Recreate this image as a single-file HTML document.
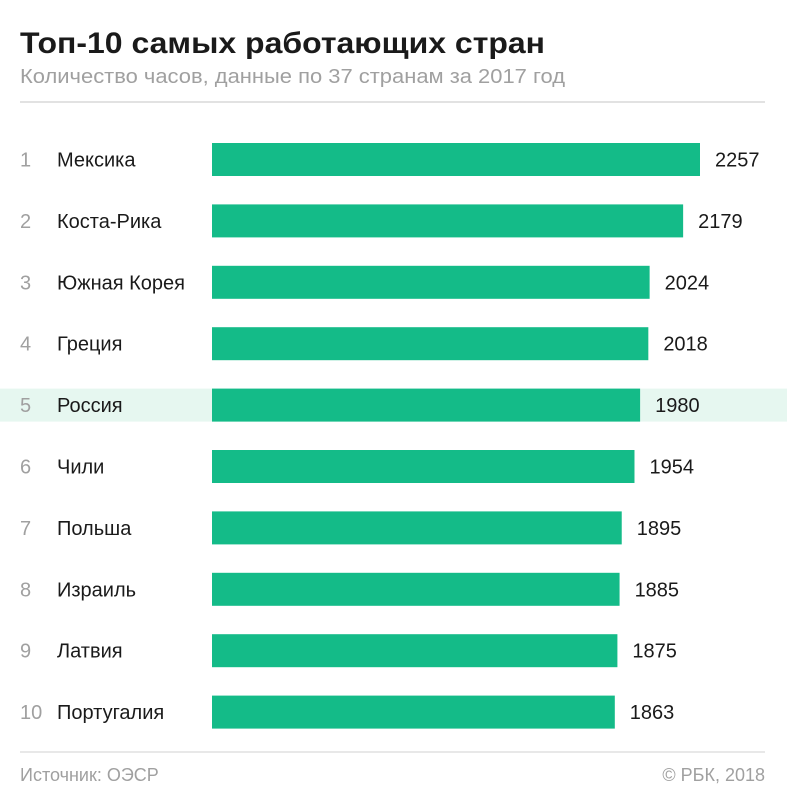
<!DOCTYPE html>
<html><head><meta charset="utf-8"><style>
body{margin:0;background:#fff;width:787px;height:800px;overflow:hidden;font-family:"Liberation Sans",sans-serif}
svg text{font-family:"Liberation Sans",sans-serif}
</style></head><body>
<svg width="787" height="800">
<text x="20" y="53" font-size="30" font-weight="bold" fill="#1a1a1a" textLength="525" lengthAdjust="spacingAndGlyphs">Топ-10 самых работающих стран</text>
<text x="20" y="83" font-size="20" fill="#a0a0a0" textLength="545" lengthAdjust="spacingAndGlyphs">Количество часов, данные по 37 странам за 2017 год</text>
<line x1="20" y1="102" x2="765" y2="102" stroke="#d8d8d8" stroke-width="1.5"/>
<g id="rows"></g>
<line x1="20" y1="752" x2="765" y2="752" stroke="#e0e0e0" stroke-width="1.5"/>
<text x="20" y="781" font-size="18" fill="#a0a0a0">Источник: ОЭСР</text>
<text x="765" y="781" font-size="18" fill="#a0a0a0" text-anchor="end">© РБК, 2018</text>
</svg>
<script>
const countries=["Мексика","Коста-Рика","Южная Корея","Греция","Россия","Чили","Польша","Израиль","Латвия","Португалия"];
const hours=[2257,2179,2024,2018,1980,1954,1895,1885,1875,1863];
const highlighted=["Россия"];
const ns="http://www.w3.org/2000/svg";
const g=document.getElementById('rows');
const x0=212, scale=488/2257, y0=143, step=61.4, bh=33;
function xs(v){return x0+v*scale;}
function mk(t,a){const e=document.createElementNS(ns,t);for(const k in a)e.setAttribute(k,a[k]);return e;}
countries.forEach((c,i)=>{
  const y=y0+i*step;
  if(highlighted.includes(c)){
    const h=mk('rect',{x:0,y:y,width:787,height:bh,fill:'#e6f7f0'});
    
    
    g.appendChild(h);
  }
  const r=mk('text',{x:20,y:y+bh/2+7,'font-size':20,fill:'#a0a0a0'});r.textContent=i+1;
  
  
  g.appendChild(r);
  const n=mk('text',{x:57,y:y+bh/2+7,'font-size':20,fill:'#1a1a1a'});n.textContent=c;
  
  
  g.appendChild(n);
  const b=mk('rect',{x:x0,y:y,width:xs(hours[i])-x0,height:bh,fill:'#14bb88'});
  
  
  g.appendChild(b);
  const v=mk('text',{x:xs(hours[i])+15,y:y+bh/2+7,'font-size':20,fill:'#1a1a1a'});v.textContent=hours[i];
  
  
  g.appendChild(v);
});
</script>
</body></html>
